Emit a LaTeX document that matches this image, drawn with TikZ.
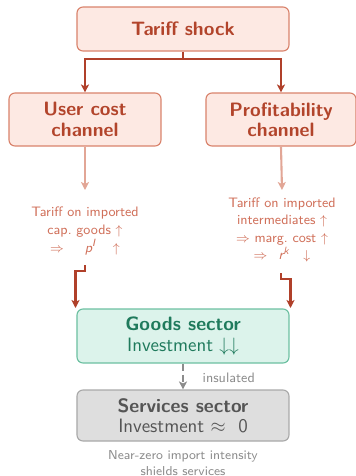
\documentclass[tikz,border=0pt]{standalone}
\usetikzlibrary{arrows.meta}
\renewcommand{\familydefault}{\sfdefault}
\def\pxu{0.62pt}
\definecolor{shockfill}{HTML}{FDE9E3}
\definecolor{shockline}{HTML}{D9836C}
\definecolor{shocktext}{HTML}{B2442B}
\definecolor{darkarrow}{HTML}{B0402A}
\definecolor{lightarrow}{HTML}{E2A696}
\definecolor{softtext}{HTML}{D0705A}
\definecolor{goodsfill}{HTML}{DCF3EB}
\definecolor{goodsline}{HTML}{6CC0A1}
\definecolor{goodstext}{HTML}{1F7A5C}
\definecolor{servfill}{HTML}{DEDEDE}
\definecolor{servline}{HTML}{A9A9A9}
\definecolor{servtext}{HTML}{555555}
\definecolor{notetext}{HTML}{8C8C8C}
\newcommand{\supvar}[2]{{\itshape #1}\raisebox{0.85ex}{\fontsize{6.5}{7}\selectfont\itshape #2}}
\tikzset{
  box/.style={rectangle, rounded corners=6*\pxu, line width=0.7pt, align=center,
    inner sep=0pt, minimum width=#1*\pxu},
  redbox/.style={box=#1, fill=shockfill, draw=shockline, text=shocktext,
    font=\fontsize{12}{12.6}\selectfont\bfseries},
  goodsbox/.style={box=#1, fill=goodsfill, draw=goodsline, text=goodstext,
    font=\fontsize{12}{12.6}\selectfont},
  servbox/.style={box=#1, fill=servfill, draw=servline, text=servtext,
    font=\fontsize{12}{12.6}\selectfont},
  mechtext/.style={align=center, text=softtext, inner sep=0pt,
    font=\fontsize{8.5}{10.9}\selectfont},
  strongarrow/.style={draw=darkarrow, line width=1.3pt,
    -{Stealth[length=8*\pxu, width=8*\pxu, inset=2*\pxu]}},
  softarrow/.style={draw=lightarrow, line width=1.3pt,
    -{Stealth[length=8*\pxu, width=8*\pxu, inset=2*\pxu]}},
  grayarrow/.style={draw=gray!90, line width=1.3pt, dash pattern=on 4.5pt off 2.5pt,
    -{Stealth[length=8*\pxu, width=8*\pxu, inset=2*\pxu]}},
}
\begin{document}
\begin{tikzpicture}[x=0.62pt, y=-0.62pt]
  \useasboundingbox (0,0) rectangle (356,476);

  % channel boxes
  \node[redbox=212, minimum height=44*\pxu] (shock) at (183,29) {Tariff shock};
  \node[redbox=152, minimum height=53*\pxu] (user) at (85,119.5) {User cost\\channel};
  \node[redbox=150, minimum height=53*\pxu] (profit) at (281,119.5) {Profitability\\channel};

  % sector boxes
  \node[goodsbox=212, minimum height=54*\pxu] (goods) at (183,336)
    {\textbf{Goods sector}\\Investment $\downarrow\downarrow$};
  \node[servbox=212, minimum height=51*\pxu] (services) at (183,415.5)
    {\textbf{Services sector}\\Investment $\approx$\ \ 0};

  % mechanism descriptions
  \node[mechtext] (utext) at (85,231)
    {Tariff on imported\\cap.\ goods $\uparrow$\\
     $\Rightarrow$\hspace{13pt}\supvar{p}{I}\hspace{11pt}$\uparrow$};
  \node[mechtext] (ptext) at (282,230)
    {Tariff on imported\\intermediates $\uparrow$\\$\Rightarrow$ marg.\ cost $\uparrow$\\
     $\Rightarrow$\hspace{7pt}\supvar{r}{k}\hspace{9pt}$\downarrow$};

  \node[text=notetext, font=\fontsize{8.5}{10}\selectfont, anchor=west] (ins) at (197,378) {insulated};
  \node[text=notetext, align=center, font=\fontsize{8}{9.9}\selectfont] (note) at (183,463)
    {Near-zero import intensity\\shields services};

  % connector ends
  \coordinate (split) at (183,59);
  \coordinate (uin) at (85,190);
  \coordinate (pin) at (282,190);
  \coordinate (uout) at (85,265);
  \coordinate (pout) at (281,273);
  \coordinate (gl) at (75.5,308);
  \coordinate (gr) at (290.5,308);

  % shock splits into the two channels
  \draw[draw=darkarrow, line width=1.3pt] (shock.south) -- (split);
  \draw[strongarrow] (split) -| (user.north);
  \draw[strongarrow] (split) -| (profit.north);

  % channels to mechanisms
  \draw[softarrow] (user.south) -- (uin);
  \draw[softarrow] (profit.south) -- (pin);

  % mechanisms into the goods sector
  \draw[strongarrow] (uout) -- ++(0,6) -| (gl);
  \draw[strongarrow] (pout) -- ++(0,6) -| (gr);

  % goods to services
  \draw[grayarrow] (goods.south) -- (services.north);
\end{tikzpicture}
\end{document}
